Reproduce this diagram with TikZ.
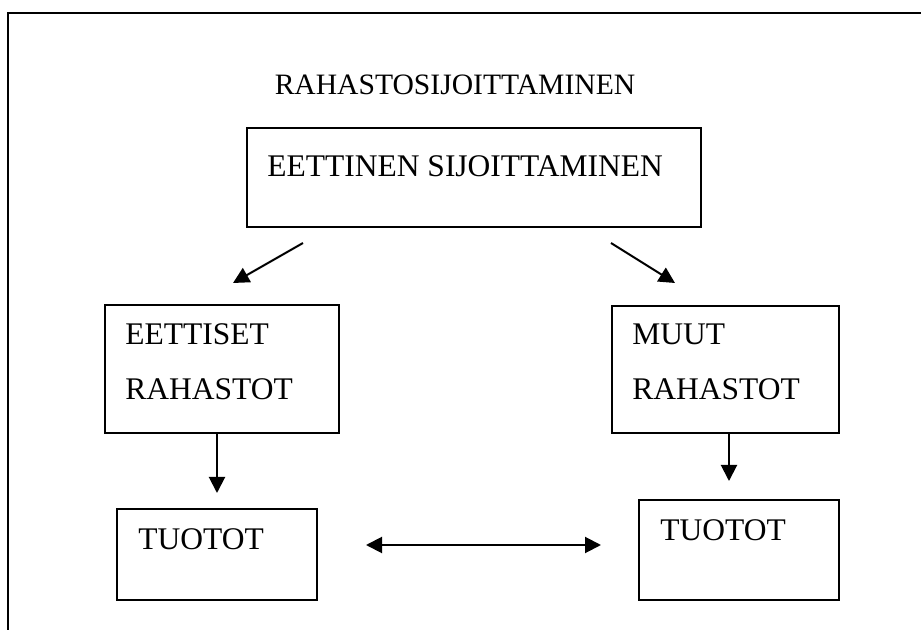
\documentclass[tikz,border=0pt]{standalone}
\usepackage{fontspec}
\setmainfont{Liberation Serif}
\usetikzlibrary{arrows.meta}
\tikzset{
  box/.style={
    rectangle,
    inner sep=0mm,
    outer sep=0mm,
  draw,
  line width=1pt
  },
  lbl/.style={
    inner sep=0mm,
    anchor=base west,
    font=\fontsize{15.75}{18}\selectfont
  },
  arr/.style={
    line width=1pt,
    -{Triangle[length=8pt,width=8pt]}
  }
}

\begin{document}
\begin{tikzpicture}[x=0.5pt,y=-0.5pt]
    \useasboundingbox (0,0) rectangle (921,630);
    \draw[line width=1pt] (921,13) -- (8,13) -- (8,630);
    \node[lbl,anchor=base,font=\fontsize{14.8}{18}\selectfont] (title) at (455,95) {RAHASTOSIJOITTAMINEN};
    \node[box,minimum width=227pt,minimum height=49.5pt] (eettinen) at (474,177.5) {};
    \node[lbl] (eettinentxt) at (267,177) {EETTINEN SIJOITTAMINEN};
    \node[box,minimum width=117pt,minimum height=64pt] (eettiset) at (222,369) {};
    \node[lbl] (eettisettxt) at (125,345) {EETTISET};
    \node[lbl] (eettisettxtb) at (125,400) {RAHASTOT};
    \node[box,minimum width=113.5pt,minimum height=63.5pt] (muut) at (725.5,369.5) {};
    \node[lbl] (muuttxt) at (632,345) {MUUT};
    \node[lbl] (muuttxtb) at (632,400) {RAHASTOT};
    \node[box,minimum width=100pt,minimum height=45.5pt] (tuototl) at (217,554.5) {};
    \node[lbl] (tuototltxt) at (138,549) {TUOTOT};
    \node[box,minimum width=100pt,minimum height=50pt] (tuototr) at (739,550) {};
    \node[lbl] (tuototrtxt) at (660,540) {TUOTOT};
    \coordinate (dl0) at (303,243);
    \coordinate (dl1) at (233,283);
    \coordinate (dr0) at (611,243);
    \coordinate (dr1) at (675,283);
    \coordinate (vl) at (217,493);
    \coordinate (vr) at (729,481);
    \coordinate (hl) at (366,545);
    \coordinate (hr) at (601,545);
    \draw[arr] (dl0) -- (dl1);
    \draw[arr] (dr0) -- (dr1);
    \draw[arr] (vl |- eettiset.south) -- (vl);
    \draw[arr] (vr |- muut.south) -- (vr);
    \draw[arr,{Triangle[length=8pt,width=8pt]}-{Triangle[length=8pt,width=8pt]}] (hl) -- (hr);
\end{tikzpicture}
\end{document}
